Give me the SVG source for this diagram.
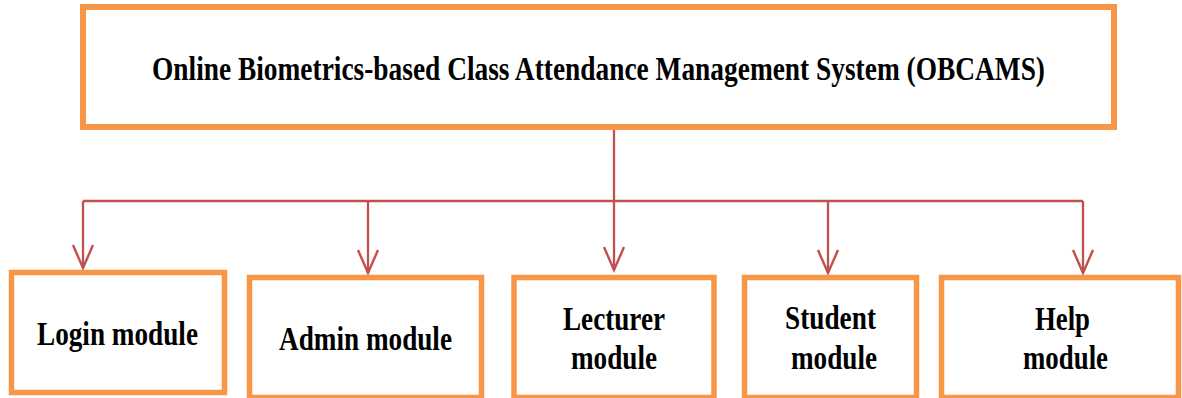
<svg xmlns="http://www.w3.org/2000/svg" width="1182" height="398" viewBox="0 0 1182 398">
<style>
.box{fill:#fff;stroke:#F79646;stroke-width:5.5}
.t{font-family:"Liberation Serif","Times New Roman",serif;font-weight:bold;font-size:27.5px;fill:#000}
.c{fill:none;stroke:#C0504D;stroke-width:2.3}
</style>
<defs>
<marker id="ah" markerUnits="userSpaceOnUse" markerWidth="28" markerHeight="26" refX="25" refY="13" orient="auto" viewBox="0 0 28 26">
<path d="M2,3 L25,13 L2,23" fill="none" stroke="#C0504D" stroke-width="2.4"/>
</marker>
</defs>
<g id="connectors">
<line class="c" x1="614" y1="127" x2="614" y2="201"/>
<line class="c" x1="83" y1="201" x2="1083" y2="201"/>
<line class="c" x1="83" y1="201" x2="83" y2="268" marker-end="url(#ah)"/>
<line class="c" x1="368" y1="201" x2="368" y2="273" marker-end="url(#ah)"/>
<line class="c" x1="614" y1="201" x2="614" y2="270" marker-end="url(#ah)"/>
<line class="c" x1="828" y1="201" x2="828" y2="273" marker-end="url(#ah)"/>
<line class="c" x1="1083" y1="201" x2="1083" y2="273" marker-end="url(#ah)"/>
</g>
<g id="main">
<rect class="box" x="83" y="7" width="1031" height="120" style="stroke-width:6"/>
<text class="t" transform="translate(152,80) scale(1,1.25)" textLength="893" lengthAdjust="spacingAndGlyphs">Online Biometrics-based Class Attendance Management System (OBCAMS)</text>
</g>
<g id="login">
<rect class="box" x="11.5" y="272.5" width="213" height="120"/>
<text class="t" transform="translate(37,345) scale(1,1.25)" textLength="161" lengthAdjust="spacingAndGlyphs">Login module</text>
</g>
<g id="admin">
<rect class="box" x="249.5" y="277.5" width="232" height="120"/>
<text class="t" transform="translate(279,350) scale(1,1.25)" textLength="173" lengthAdjust="spacingAndGlyphs">Admin module</text>
</g>
<g id="lecturer">
<rect class="box" x="514" y="277.5" width="200" height="120"/>
<text class="t" transform="translate(563,330) scale(1,1.25)" textLength="102" lengthAdjust="spacingAndGlyphs">Lecturer</text>
<text class="t" transform="translate(571,369) scale(1,1.25)" textLength="86" lengthAdjust="spacingAndGlyphs">module</text>
</g>
<g id="student">
<rect class="box" x="744.5" y="277.5" width="172" height="120"/>
<text class="t" transform="translate(785,329) scale(1,1.25)" textLength="91" lengthAdjust="spacingAndGlyphs">Student</text>
<text class="t" transform="translate(791,369) scale(1,1.25)" textLength="86" lengthAdjust="spacingAndGlyphs">module</text>
</g>
<g id="help">
<rect class="box" x="941.5" y="277.5" width="237" height="120"/>
<text class="t" transform="translate(1035,330) scale(1,1.25)" textLength="55" lengthAdjust="spacingAndGlyphs">Help</text>
<text class="t" transform="translate(1023,369) scale(1,1.25)" textLength="85" lengthAdjust="spacingAndGlyphs">module</text>
</g>
</svg>
